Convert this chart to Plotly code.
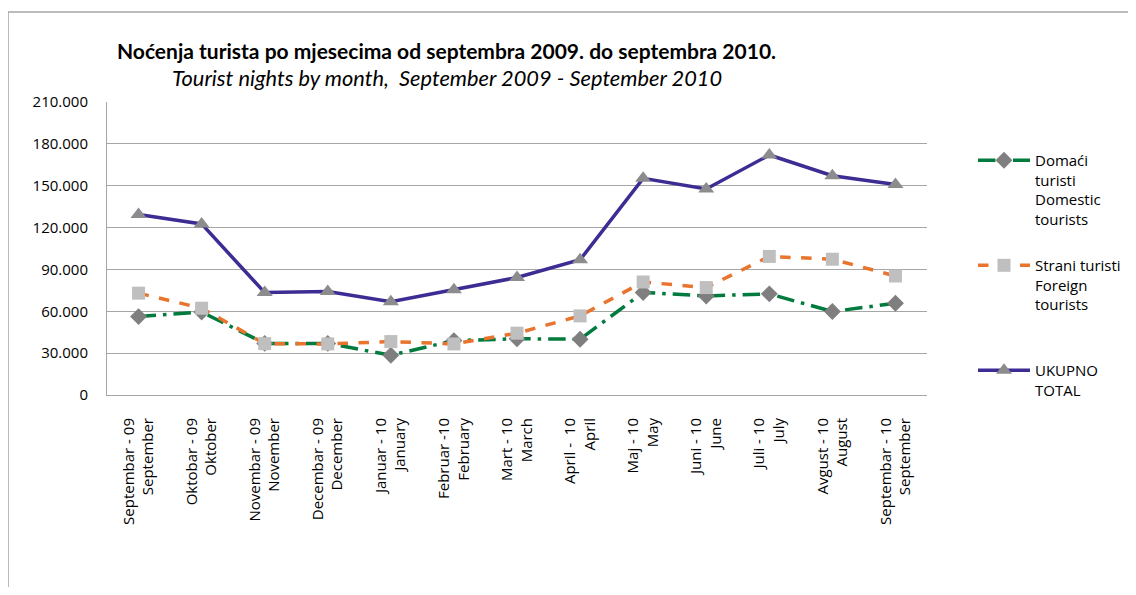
"""Tourist nights by month, September 2009 - September 2010."""

import plotly.graph_objects as go

months = [
    "Septembar - 09<br>September",
    "Oktobar - 09<br>Oktober",
    "Novembar - 09<br>November",
    "Decembar - 09<br>December",
    "Januar - 10<br>January",
    "Februar -10<br>February",
    "Mart - 10<br>March",
    "April -  10<br>April",
    "Maj - 10<br>May",
    "Juni - 10<br>June",
    "Juli - 10<br>July",
    "Avgust - 10<br>August",
    "Septembar - 10<br>September",
]

domestic = [56200, 59500, 37000, 37000, 28500, 39000, 40300,
            40000, 73500, 71000, 72500, 59800, 65800]
foreign = [73000, 62200, 36800, 36600, 38300, 36600, 44300,
           56700, 81000, 77000, 99300, 97300, 85300]
total = [129300, 122600, 73400, 74100, 66800, 75500, 84200,
         96900, 155300, 147700, 172000, 157200, 150800]

y_ticks = [0, 30000, 60000, 90000, 120000, 150000, 180000, 210000]

FONT = "Open Sans"

fig = go.Figure()

fig.add_trace(go.Scatter(
    x=months, y=domestic, mode="lines+markers",
    name="Domaći<br>turisti<br>Domestic<br>tourists",
    legendgroup="a",
    line=dict(color="#007A3D", width=3.5, dash="longdashdot"),
    marker=dict(symbol="diamond", size=13, color="#7F7F7F"),
))
fig.add_trace(go.Scatter(
    x=months, y=foreign, mode="lines+markers",
    name="Strani turisti<br>Foreign<br>tourists<br> ",
    legendgroup="b",
    line=dict(color="#E8742E", width=3.5, dash="dash"),
    marker=dict(symbol="square", size=13, color="#BFBFBF"),
))
fig.add_trace(go.Scatter(
    x=months, y=total, mode="lines+markers",
    name="UKUPNO<br>TOTAL",
    legendgroup="c",
    line=dict(color="#3D2C93", width=3.5),
    marker=dict(symbol="triangle-up", size=14, color="#8C8C8E"),
))

# outer chart border (clipped by the window on right/bottom)
fig.add_shape(
    type="rect", xref="paper", yref="paper",
    x0=-0.1207, x1=1.27, y0=-0.75, y1=1.307,
    line=dict(color="#A6A6A6", width=1.5), layer="below",
)

fig.add_annotation(
    text="<b>Noćenja turista po mjesecima od septembra 2009. do septembra 2010.</b>",
    xref="paper", yref="paper", x=0.4146, y=1.177, showarrow=False,
    xanchor="center", yanchor="middle",
    font=dict(family="Lato", size=21, color="#000000"),
)
fig.add_annotation(
    text="<i>Tourist nights by month,  September 2009 - September 2010</i>",
    xref="paper", yref="paper", x=0.4146, y=1.082, showarrow=False,
    xanchor="center", yanchor="middle",
    font=dict(family="Lato", size=21.8, color="#000000"),
)

# page body has an 8px margin: keep the figure small enough to avoid scrollbars
fig.update_layout(
    width=1120, height=579,
    margin=dict(l=99, r=201, t=94, b=192),
    paper_bgcolor="white", plot_bgcolor="white",
    separators=",.",
    font=dict(family=FONT, size=15, color="#000000"),
    showlegend=True,
    legend=dict(
        xref="container", yref="container",
        x=0.8616, y=0.765, xanchor="left", yanchor="top",
        valign="top", tracegroupgap=24, itemwidth=52,
        font=dict(family=FONT, size=15, color="#000000"),
        bgcolor="rgba(0,0,0,0)",
    ),
    xaxis=dict(
        range=[-0.5, 12.5], tickangle=-90, showgrid=False,
        showline=True, linecolor="#A6A6A6", linewidth=1,
        ticks="", ticklabelstandoff=16,
        tickfont=dict(family=FONT, size=15),
    ),
    yaxis=dict(
        range=[0, 210000], tickvals=y_ticks, tickformat=",.0f",
        showgrid=True, gridcolor="#A6A6A6", gridwidth=1,
        showline=True, linecolor="#A6A6A6", linewidth=1,
        zeroline=False, ticks="", ticklabelstandoff=15,
        tickfont=dict(family=FONT, size=15),
    ),
)

fig.write_html("out.html")
